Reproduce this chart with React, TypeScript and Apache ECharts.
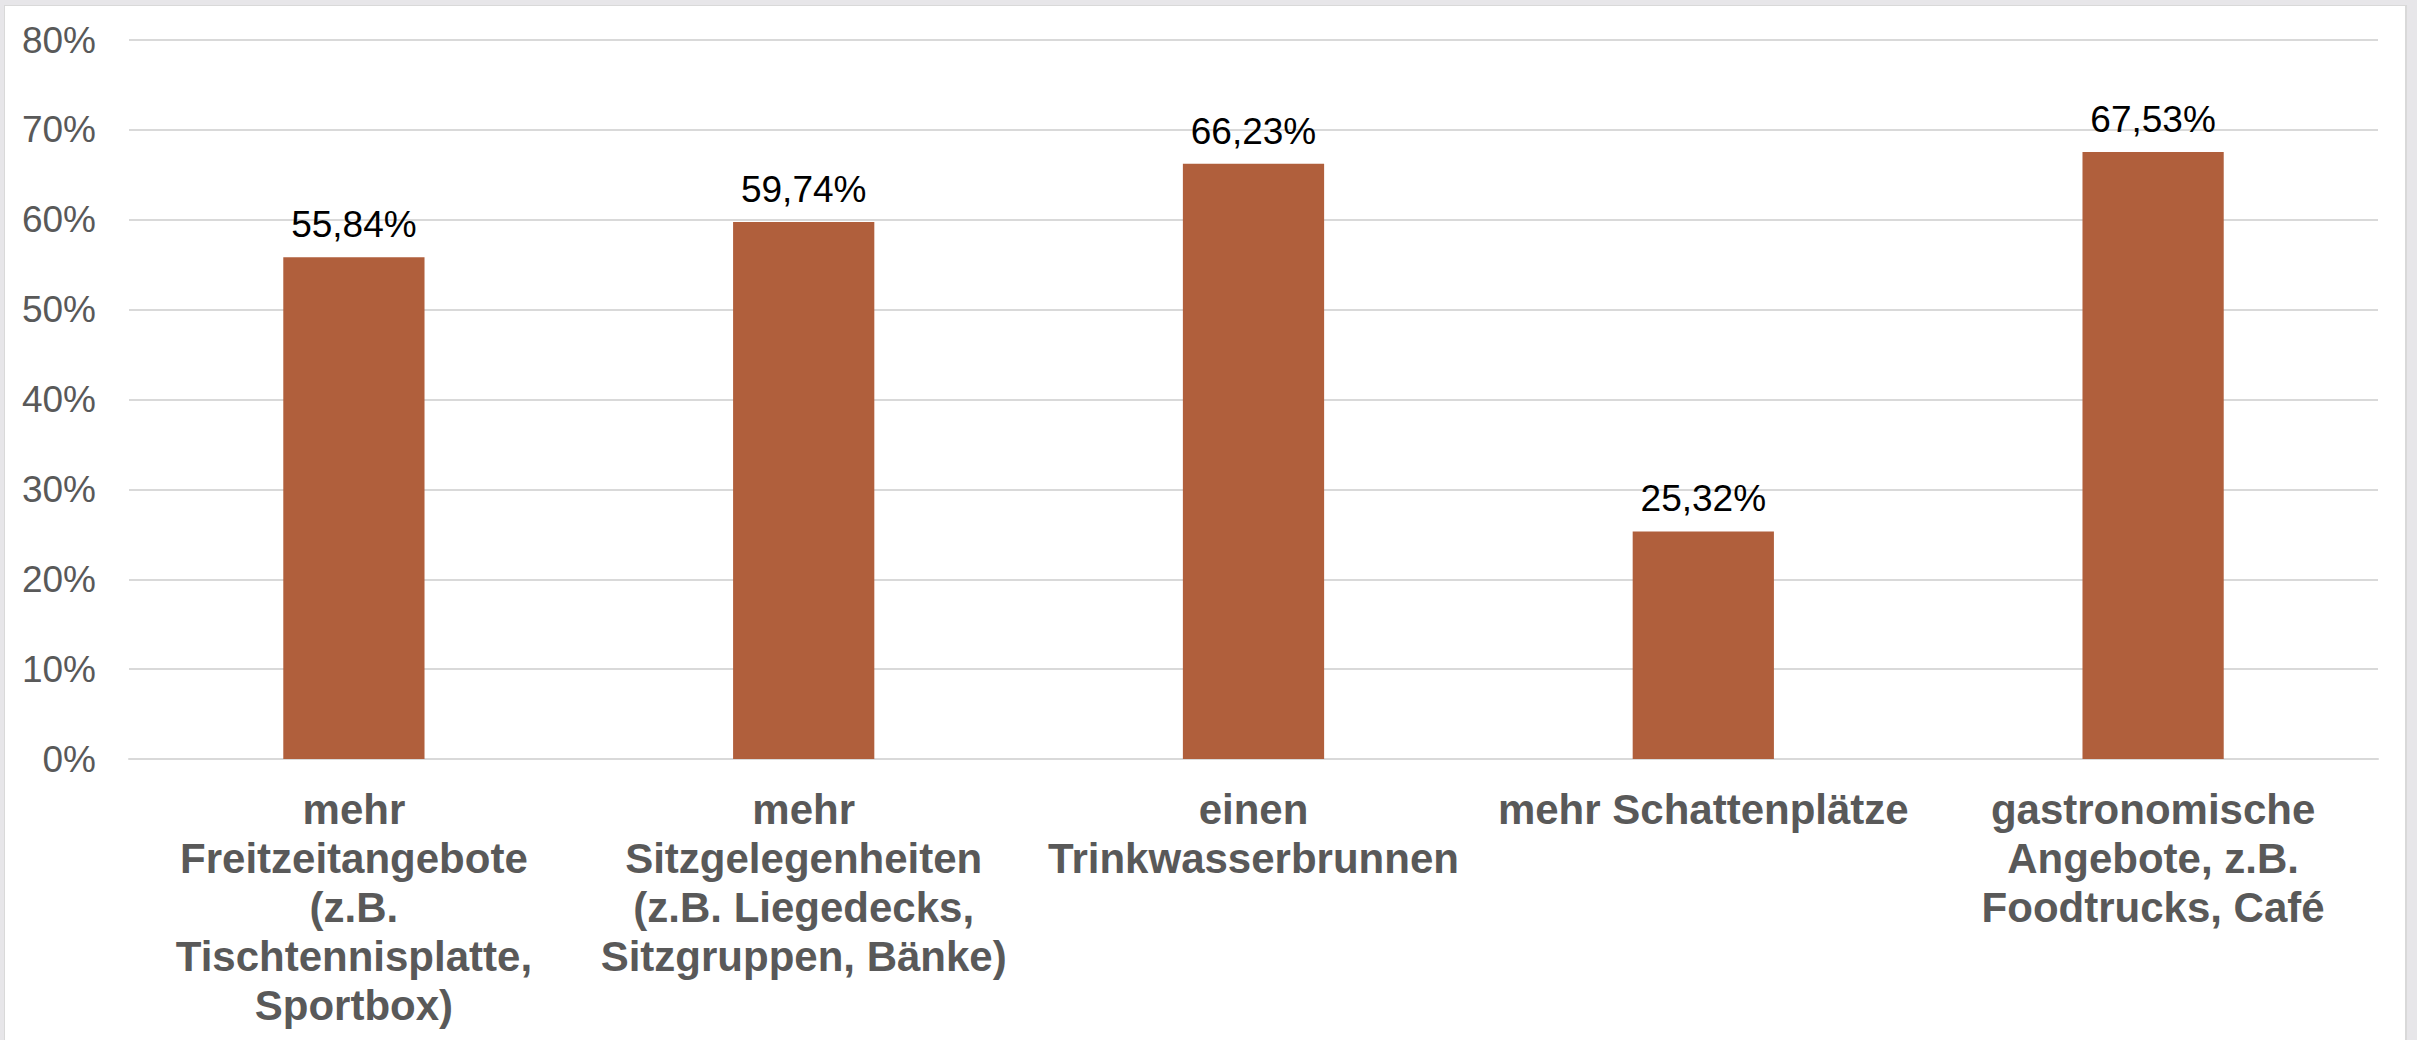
import React, { useEffect, useRef } from "react";
import * as echarts from "echarts";

const categories: string[] = [
  "mehr\nFreitzeitangebote\n(z.B.\nTischtennisplatte,\nSportbox)",
  "mehr\nSitzgelegenheiten\n(z.B. Liegedecks,\nSitzgruppen, Bänke)",
  "einen\nTrinkwasserbrunnen",
  "mehr Schattenplätze",
  "gastronomische\nAngebote, z.B.\nFoodtrucks, Café",
];

const values: number[] = [55.84, 59.74, 66.23, 25.32, 67.53];

const yMin = 0;
const yMax = 80;
const yInterval = 10;

const FONT = "'Liberation Sans', Arial, Helvetica, sans-serif";

export default function App() {
  const ref = useRef<HTMLDivElement>(null);

  useEffect(() => {
    document.body.style.margin = "0";
    if (!ref.current) return;
    const chart = echarts.init(ref.current, undefined, { renderer: "svg" });
    chart.setOption({
      animation: false,
      backgroundColor: "transparent",
      grid: { left: 129, right: 39, top: 40, bottom: 281, containLabel: false },
      xAxis: {
        type: "category",
        data: categories,
        axisTick: { show: false },
        axisLine: { show: true, lineStyle: { color: "#d9d9d9", width: 2 } },
        axisLabel: {
          interval: 0,
          margin: 26,
          color: "#595959",
          fontFamily: FONT,
          fontWeight: "bold",
          fontSize: 42,
          lineHeight: 49,
          align: "center",
        },
      },
      yAxis: {
        type: "value",
        min: yMin,
        max: yMax,
        interval: yInterval,
        axisLine: { show: false },
        axisTick: { show: false },
        splitLine: { show: true, lineStyle: { color: "#d9d9d9", width: 2 } },
        axisLabel: {
          formatter: "{value}%",
          margin: 33,
          color: "#595959",
          fontFamily: FONT,
          fontSize: 37,
        },
      },
      series: [
        {
          type: "bar",
          data: values,
          barWidth: "31.4%",
          itemStyle: { color: "#b05f3c" },
          label: {
            show: true,
            position: "top",
            distance: 14,
            color: "#000000",
            fontFamily: FONT,
            fontSize: 37,
            lineHeight: 37,
            formatter: (p: any) => p.value.toFixed(2).replace(".", ",") + "%",
          },
        },
      ],
    });
    return () => chart.dispose();
  }, []);

  return (
    <div
      style={{
        position: "relative",
        width: 2417,
        height: 1040,
        background: "#e7e6e9",
        overflow: "hidden",
      }}
    >
      <div
        style={{
          position: "absolute",
          left: 4,
          top: 5,
          width: 2400,
          height: 1040,
          background: "#ffffff",
          borderLeft: "1px solid #d9d9d9",
          borderTop: "1px solid #d9d9d9",
          borderRight: "2px solid #d9d9d9",
        }}
      />
      <div
        ref={ref}
        style={{ position: "absolute", left: 0, top: 0, width: 2417, height: 1040 }}
      />
    </div>
  );
}
